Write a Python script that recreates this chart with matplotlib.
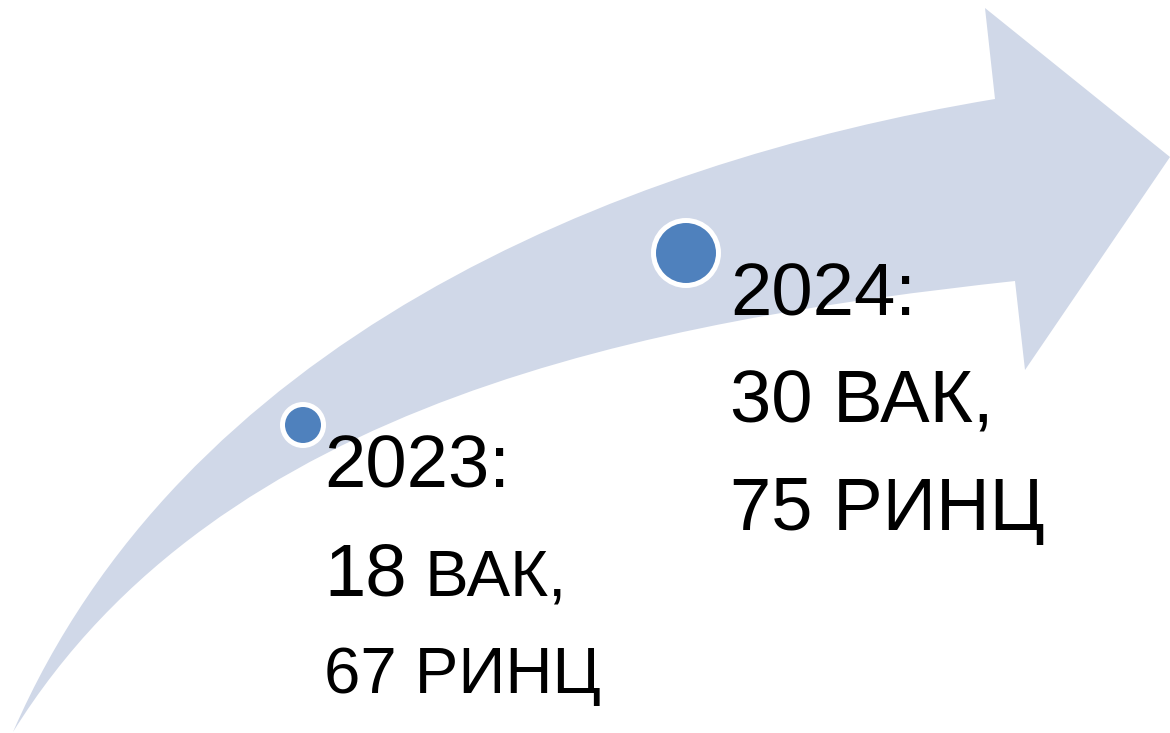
import matplotlib
matplotlib.use("Agg")
import matplotlib.pyplot as plt
from matplotlib.path import Path
from matplotlib.patches import PathPatch, Circle
import numpy as np

# данные
years = [2023, 2024]
vak = [18, 30]
rinc = [67, 75]

# контур стрелки (в пикселях картинки)
upper_edge = [(13, 732), (100, 580), (200, 460), (333, 350), (600, 210),
              (763, 150), (900, 118), (995, 99)]
head = [(985, 8), (1170, 157), (1025, 370), (1015, 281)]
lower_edge = [(1015, 281), (900, 292), (760, 313), (600, 354), (400, 427),
              (200, 523), (100, 617), (50, 677), (13, 732)]


def bezier_fit(points):
    # одна кубическая кривая через концы, контрольные точки - МНК
    p = np.array(points, dtype=float)
    d = np.r_[0, np.cumsum(np.hypot(*np.diff(p, axis=0).T))]
    t = d / d[-1]
    b0 = (1 - t) ** 3
    b1 = 3 * t * (1 - t) ** 2
    b2 = 3 * t ** 2 * (1 - t)
    b3 = t ** 3
    rhs = p - np.outer(b0, p[0]) - np.outer(b3, p[-1])
    A = np.c_[b1, b2]
    ctrl, *_ = np.linalg.lstsq(A, rhs, rcond=None)
    return [tuple(ctrl[0]), tuple(ctrl[1]), tuple(p[-1])]


fig = plt.figure(figsize=(11.7, 7.33), dpi=100)
ax = fig.add_axes([0, 0, 1, 1])
ax.set_xlim(0, 1170)
ax.set_ylim(733, 0)
ax.axis("off")

verts = [upper_edge[0]] + bezier_fit(upper_edge) + head[:-1] \
    + [lower_edge[0]] + bezier_fit(lower_edge) + [upper_edge[0]]
codes = [Path.MOVETO] + [Path.CURVE4] * 3 + [Path.LINETO] * 4 \
    + [Path.CURVE4] * 3 + [Path.CLOSEPOLY]
ax.add_patch(PathPatch(Path(verts, codes), facecolor="#D0D8E8", edgecolor="none"))

# точки
centers = [(303, 425), (686, 253)]
radii = [20.5, 32.5]
for (cx, cy), r in zip(centers, radii):
    ax.add_patch(Circle((cx, cy), r, facecolor="#4F81BD", edgecolor="white",
                        linewidth=3.6))

font = "Liberation Sans"
big = 53.5
small = 47

# 2023
ax.text(324, 487, f"{years[0]}:", fontsize=big, family=font, va="baseline")
ax.text(324, 595, f"{vak[0]}", fontsize=big, family=font, va="baseline")
ax.text(407, 595, " ВАК,", fontsize=small, family=font, va="baseline")
ax.text(324, 693, f"{rinc[0]} РИНЦ", fontsize=small, family=font, va="baseline")

# 2024
ax.text(730, 315, f"{years[1]}:", fontsize=big, family=font, va="baseline")
ax.text(730, 422, f"{vak[1]} ВАК,", fontsize=big, family=font, va="baseline")
ax.text(730, 530, f"{rinc[1]} РИНЦ", fontsize=big, family=font, va="baseline")

fig.savefig("out.png", dpi=100)
